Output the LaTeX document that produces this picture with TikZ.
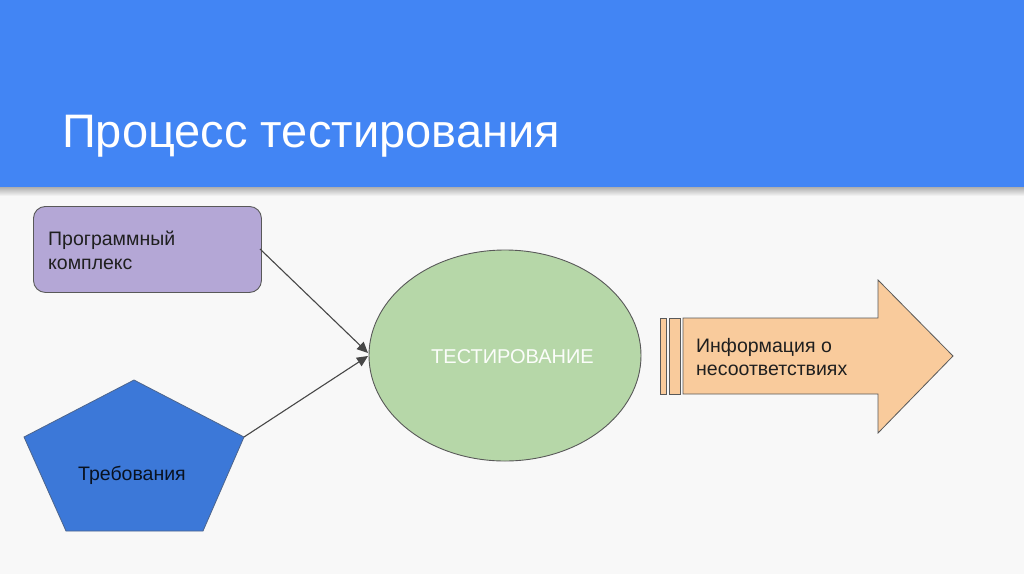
\documentclass[tikz,border=0pt]{standalone}
\usepackage{fontspec}
\setmainfont{Liberation Sans}
\usetikzlibrary{shapes.geometric,arrows.meta}
\definecolor{hdr}{HTML}{4285F4}
\definecolor{bg}{HTML}{F8F8F8}
\definecolor{lav}{HTML}{B4A7D6}
\definecolor{pblue}{HTML}{3C78D8}
\definecolor{lgreen}{HTML}{B6D7A8}
\definecolor{peach}{HTML}{F9CB9C}
\definecolor{edge}{HTML}{595959}
\definecolor{txt}{HTML}{1F1F1F}
\tikzset{
  shapeline/.style={draw=edge, line width=0.9pt},
  lbl/.style={font=\fontsize{19.5}{23.5}\selectfont, text=txt, align=left, inner sep=0pt},
  conn/.style={draw=edge!80!black, line width=1.1pt, -{Triangle[length=11pt,width=10pt]}}
}
\begin{document}
\begin{tikzpicture}[x=1pt,y=-1pt]
\useasboundingbox (0,0) rectangle (1024,574);
\fill[bg] (0,0) rectangle (1024,574);
\shade[top color=black!35, bottom color=bg] (0,186) rectangle (1024,196);
\fill[hdr] (0,0) rectangle (1024,187);
\node[anchor=base west, inner sep=0pt, text=white, font=\fontsize{47}{56}\selectfont] (title) at (62,147.5) {Процесс тестирования};

% software complex
\node[shapeline, fill=lav, rounded corners=12pt, minimum width=228pt, minimum height=86pt, anchor=north west, inner sep=0pt] (prog) at (33,206) {};
\node[lbl, anchor=base west] (progtxt) at (48,245.7) {Программный};
\node[lbl, anchor=base west] (progtxt2) at (48,269.3) {комплекс};

% requirements pentagon
\coordinate (pT) at (134,380);
\coordinate (pR) at (244,437);
\coordinate (pBR) at (203,531);
\coordinate (pBL) at (66,531);
\coordinate (pL) at (24,437);
\fill[pblue] (pT) -- (pR) -- (pBR) -- (pBL) -- (pL) -- cycle;
\draw[draw=edge!60!pblue, line width=0.8pt] (pT) -- (pR) -- (pBR) -- (pBL) -- (pL) -- cycle;
\node[lbl, text=black!85!pblue] (req) at (132,475) {Требования};

% testing ellipse
\node[ellipse, shapeline, fill=lgreen, minimum width=272pt, minimum height=211pt, inner sep=0pt] (test) at (505,355.5) {};
\node[anchor=base, inner sep=0pt, text=white!94!lgreen, font=\fontsize{20}{24}\selectfont] (testtxt) at (512.5,363.5) {ТЕСТИРОВАНИЕ};

% connectors
\coordinate (progR) at (260,249);
\draw[conn] (progR) -- (368,353);
\draw[conn] (pR) -- (368,356);

% striped arrow
\filldraw[fill=peach, draw=edge, line width=0.8pt] (660,318) rectangle (666,394);
\filldraw[fill=peach, draw=edge, line width=0.8pt] (669,318) rectangle (680,394);
\filldraw[fill=peach, draw=edge, line width=0.8pt] (683,318) -- (878,318) -- (878,280) -- (953,356) -- (878,433) -- (878,394) -- (683,394) -- cycle;
\node[lbl, anchor=base west] (info) at (696,352) {Информация о};
\node[lbl, anchor=base west] (info2) at (696,375) {несоответствиях};
\end{tikzpicture}
\end{document}
